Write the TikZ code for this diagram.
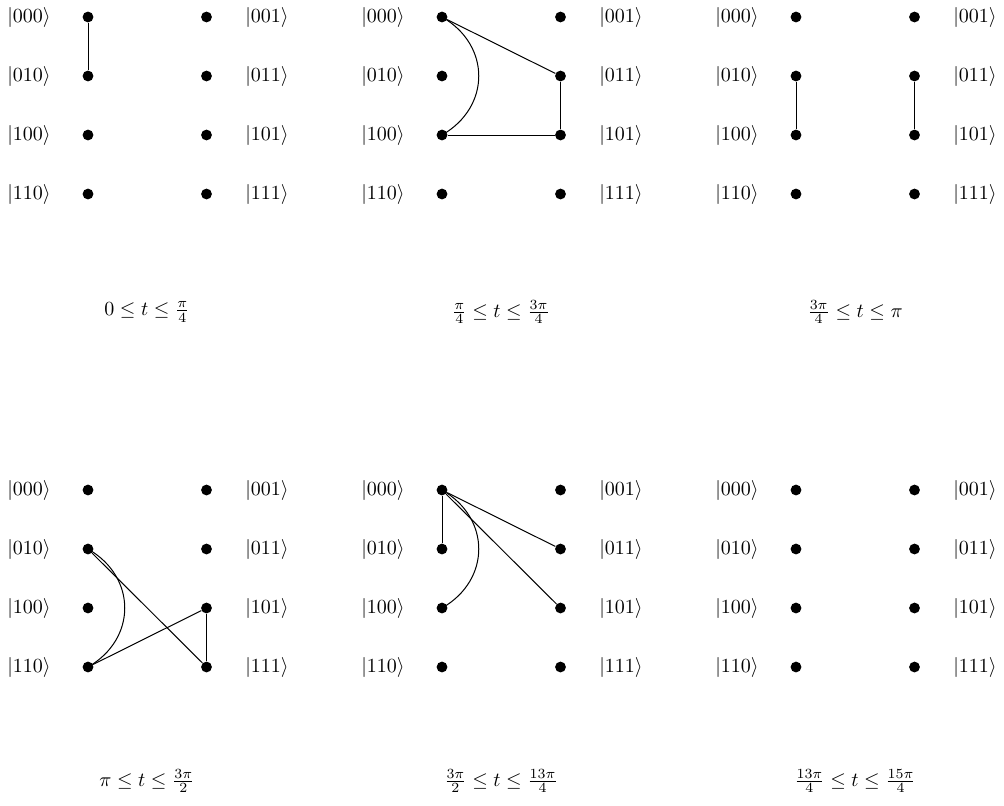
\documentclass[tikz,border=0pt]{standalone}
\begin{document}
\begin{tikzpicture}[x=0.5pt,y=-0.5pt,
  dot/.style={circle,fill=black,inner sep=0pt,minimum size=5.4pt},
  ket/.style={inner sep=0pt},
  edge/.style={line width=0.5pt},
  caption/.style={inner sep=0pt}]
\useasboundingbox (0,0) rectangle (1004,805);
\foreach \p/\ox/\oy in {1/0/0,2/354/0,3/708/0,4/0/473,5/354/473,6/708/473}{
  \foreach \yy/\lab/\rab in {17/000/001,76/010/011,135/100/101,194/110/111}{
    \node[dot] (p\p-\lab) at (\ox+88,\oy+\yy) {};
    \node[dot] (p\p-\rab) at (\ox+206.5,\oy+\yy) {};
    \node[ket] (k\p-\lab) at (\ox+29,\oy+\yy) {$|\lab\rangle$};
    \node[ket] (k\p-\rab) at (\ox+267,\oy+\yy) {$|\rab\rangle$};
  }
}
% captions
\node[caption] (c1) at (147,312) {$0 \le t \le \frac{\pi}{4}$};
\node[caption] (c2) at (501,312) {$\frac{\pi}{4} \le t \le \frac{3\pi}{4}$};
\node[caption] (c3) at (855,312) {$\frac{3\pi}{4} \le t \le \pi$};
\node[caption] (c4) at (147,781) {$\pi \le t \le \frac{3\pi}{2}$};
\node[caption] (c5) at (501,781) {$\frac{3\pi}{2} \le t \le \frac{13\pi}{4}$};
\node[caption] (c6) at (855,781) {$\frac{13\pi}{4} \le t \le \frac{15\pi}{4}$};
% panel 1
\draw[edge] (p1-000) -- (p1-010);
% panel 2
\draw[edge] (p2-000) -- (p2-011);
\draw[edge] (p2-011) -- (p2-101);
\draw[edge] (p2-100) -- (p2-101);
\draw[edge] (p2-000.center) .. controls +(49,28) and +(49,-28) .. (p2-100.center);
% panel 3
\draw[edge] (p3-010) -- (p3-100);
\draw[edge] (p3-011) -- (p3-101);
% panel 4
\draw[edge] (p4-010.center) .. controls +(49,28) and +(49,-28) .. (p4-110.center);
\draw[edge] (p4-010) -- (p4-111);
\draw[edge] (p4-110) -- (p4-101);
\draw[edge] (p4-101) -- (p4-111);
% panel 5
\draw[edge] (p5-000) -- (p5-010);
\draw[edge] (p5-000) -- (p5-011);
\draw[edge] (p5-000) -- (p5-101);
\draw[edge] (p5-000.center) .. controls +(49,28) and +(49,-28) .. (p5-100.center);
\end{tikzpicture}
\end{document}
